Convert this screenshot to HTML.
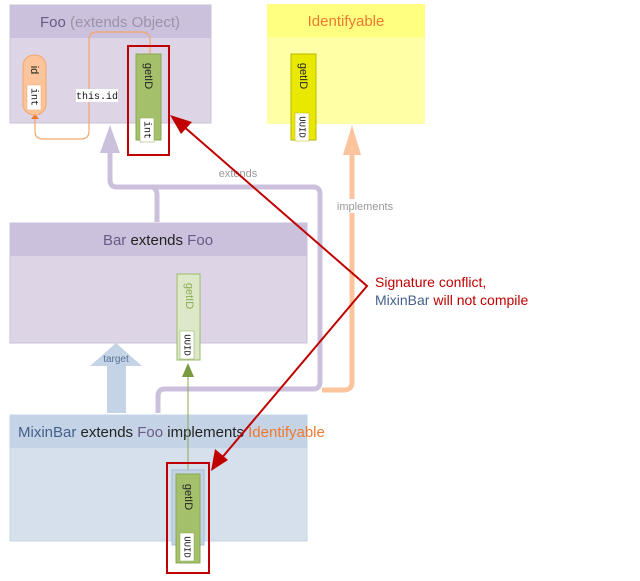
<!DOCTYPE html>
<html><head><meta charset="utf-8"><style>html,body{margin:0;padding:0;background:#fff}svg{display:block}text{font-family:"Liberation Sans",sans-serif}.m{font-family:"Liberation Mono",monospace}</style></head><body>
<svg width="640" height="581" viewBox="0 0 640 581" xmlns="http://www.w3.org/2000/svg">
<!-- Foo -->
<rect x="10" y="5" width="201" height="118" fill="#ddd5e6" stroke="#cbc1dc"/>
<rect x="10" y="5" width="201" height="33" fill="#cbc1dc"/>
<text x="110" y="27" font-size="15" text-anchor="middle" fill="#6a5a86">Foo <tspan fill="#9c92ab">(extends Object)</tspan></text>
<!-- Identifyable -->
<rect x="267" y="4" width="158" height="120" fill="#ffffa6"/>
<rect x="267" y="4" width="158" height="33" fill="#ffff80"/>
<text x="346" y="26" font-size="15" text-anchor="middle" fill="#f07830">Identifyable</text>
<!-- Bar -->
<rect x="10" y="223" width="297" height="120" fill="#ddd5e6" stroke="#cbc1dc"/>
<rect x="10" y="223" width="297" height="33" fill="#cbc1dc"/>
<text x="158" y="245" font-size="15" text-anchor="middle" fill="#6a5a86">Bar <tspan fill="#222">extends</tspan> Foo</text>
<!-- MixinBar -->
<rect x="10" y="415" width="297" height="126" fill="#d5e0ec" stroke="#c4d4e6"/>
<rect x="10" y="415" width="297" height="33" fill="#c4d4e6"/>
<text x="18" y="437" font-size="15" fill="#45608a">MixinBar <tspan fill="#222">extends</tspan> <tspan fill="#6a5a86">Foo</tspan> <tspan fill="#222">implements</tspan> <tspan fill="#f07830">Identifyable</tspan></text>
<!-- extends connector -->
<path d="M110 153 V180 Q110 187 117 187 H313 Q320 187 320 194 V382 Q320 389 313 389 H165 Q158 389 158 396 V413" fill="none" stroke="#cbc1dc" stroke-width="5"/>
<path d="M157 222 V195 Q157 187 150 187" fill="none" stroke="#cbc1dc" stroke-width="5"/>
<polygon points="110,125 100,153 120,153" fill="#cbc1dc"/>
<rect x="213" y="166" width="50" height="14" fill="#fff"/>
<text x="238" y="177" font-size="11" text-anchor="middle" fill="#999">extends</text>
<!-- implements -->
<path d="M352 150 V382 Q352 390 344 390 H322" fill="none" stroke="#fcc49c" stroke-width="5"/>
<polygon points="352,125 343,155 361,155" fill="#fcc49c"/>
<rect x="330" y="199" width="68" height="14" fill="#fff"/>
<text x="365" y="210" font-size="11" text-anchor="middle" fill="#999">implements</text>
<!-- target arrow -->
<polygon points="116,343 90,366 107,366 107,413 126,413 126,366 142,366" fill="#c4d4e6"/>
<text x="116" y="362" font-size="10" text-anchor="middle" fill="#5a7194">target</text>
<!-- this.id orange -->
<path d="M150 54 V40 Q150 32 142 32 H97 Q89 32 89 40 V131 Q89 139 81 139 H43 Q35 139 35 131 V118" fill="none" stroke="#f4a66a" stroke-width="1.2"/>
<polygon points="35,114 31,119 39,119" fill="#f07830"/>
<rect x="76" y="89" width="42" height="13" fill="#fff"/>
<text class="m" x="97" y="99" font-size="10" text-anchor="middle" fill="#111">this.id</text>
<!-- id pill -->
<rect x="23" y="55" width="23" height="60" rx="11" fill="#fbc49a" stroke="#f4a66a"/>
<rect x="27" y="85" width="14" height="25" fill="#fff" stroke="#f4a66a" stroke-width="0.5"/>
<text x="34" y="70" font-size="11" transform="rotate(90 34 70)" text-anchor="middle" dominant-baseline="middle" fill="#222">id</text>
<text class="m" x="34" y="97" font-size="10" transform="rotate(90 34 97)" text-anchor="middle" dominant-baseline="middle" fill="#111">int</text>
<!-- Foo getID -->
<rect x="136" y="54" width="25" height="86" fill="#a4c06a" stroke="#8aa856"/>
<rect x="140" y="118" width="14" height="24" fill="#fff" stroke="#8aa856" stroke-width="0.5"/>
<text x="148" y="76" font-size="11" transform="rotate(90 148 76)" text-anchor="middle" dominant-baseline="middle" fill="#222">getID</text>
<text class="m" x="147" y="130" font-size="10" transform="rotate(90 147 130)" text-anchor="middle" dominant-baseline="middle" fill="#111">int</text>
<rect x="128" y="46" width="41" height="109" fill="none" stroke="#c00000" stroke-width="2"/>
<!-- Identifyable getID -->
<rect x="291" y="54" width="25" height="86" fill="#e8e800" stroke="#b8b800"/>
<rect x="295" y="113" width="14" height="28" fill="#fff" stroke="#b8b800" stroke-width="0.5"/>
<text x="303" y="76" font-size="11" transform="rotate(90 303 76)" text-anchor="middle" dominant-baseline="middle" fill="#222">getID</text>
<text class="m" x="302" y="127" font-size="9" transform="rotate(90 302 127)" text-anchor="middle" dominant-baseline="middle" fill="#111">UUID</text>
<!-- Bar getID -->
<rect x="177" y="274" width="23" height="86" fill="#dde8c8" stroke="#9cbc6a"/>
<rect x="180" y="331" width="14" height="28" fill="#fff" stroke="#8aa856" stroke-width="0.5"/>
<text x="189" y="296" font-size="11" transform="rotate(90 189 296)" text-anchor="middle" dominant-baseline="middle" fill="#88aa55">getID</text>
<text class="m" x="187" y="345" font-size="9" transform="rotate(90 187 345)" text-anchor="middle" dominant-baseline="middle" fill="#111">UUID</text>
<!-- green line -->
<line x1="188" y1="474" x2="188" y2="375" stroke="#8aa856" stroke-width="1"/>
<polygon points="188,363 182,377 194,377" fill="#7a9a40"/>
<!-- MixinBar getID -->
<rect x="172" y="470" width="32" height="75" fill="#c4d4e6" stroke="#a8bcd6"/>
<rect x="176" y="474" width="24" height="89" fill="#a4c06a" stroke="#8aa856"/>
<rect x="180" y="533" width="14" height="28" fill="#fff" stroke="#8aa856" stroke-width="0.5"/>
<text x="188" y="497" font-size="11" transform="rotate(90 188 497)" text-anchor="middle" dominant-baseline="middle" fill="#222">getID</text>
<text class="m" x="187" y="547" font-size="9" transform="rotate(90 187 547)" text-anchor="middle" dominant-baseline="middle" fill="#111">UUID</text>
<rect x="167" y="463" width="42" height="110" fill="none" stroke="#c00000" stroke-width="2"/>
<!-- red arrows -->
<path d="M182 125 L367 286 L220 460" fill="none" stroke="#c00000" stroke-width="2"/>
<polygon points="170,115 192,122 181,134" fill="#c00000"/>
<polygon points="211,471 215,449 228,460" fill="#c00000"/>
<text x="375" y="287" font-size="14" fill="#c00000">Signature conflict,</text>
<text x="375" y="305" font-size="14" fill="#c00000"><tspan fill="#45608a">MixinBar</tspan> will not compile</text>
</svg>
</body></html>
